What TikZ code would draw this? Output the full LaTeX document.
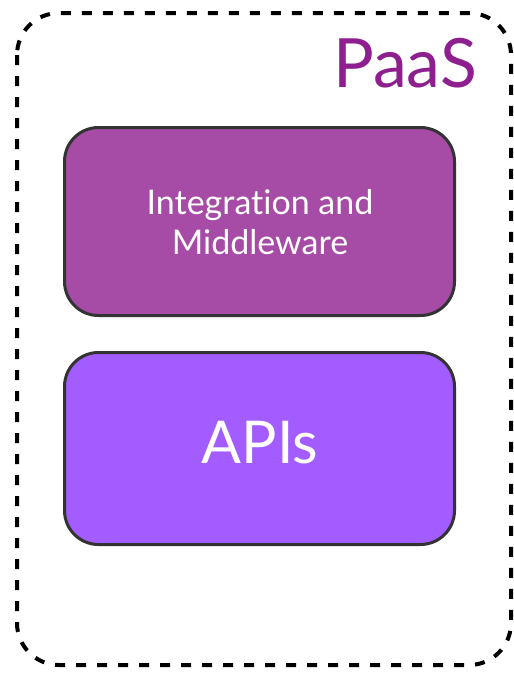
\documentclass[tikz,border=0pt]{standalone}
\usepackage{fontspec}
\setmainfont{Lato}[Ligatures={NoCommon}]
\usepackage{tikz}

\definecolor{paasc}{HTML}{8E1F8E}
\definecolor{midc}{HTML}{A64CA6}
\definecolor{apic}{HTML}{A35CFF}
\definecolor{edgec}{HTML}{333333}

\begin{document}
\begin{tikzpicture}[x=1pt,y=-1pt,
  layer box/.style={draw=edgec,line width=3pt,rounded corners=34pt,minimum width=390pt},
  layer text/.style={text=white,align=center}]
\useasboundingbox (0,0) rectangle (514,673);
\draw[line width=4pt,dash pattern=on 10pt off 11pt,rounded corners=42pt] (17,13) rectangle (511,665);

\node[font=\fontsize{68}{68}\selectfont,text=paasc,anchor=base west,inner sep=0pt] (paas) at (333,87) {PaaS};

\node[layer box,fill=midc,minimum height=188pt] (mid) at (259.5,221.5) {};
\node[layer text,font=\fontsize{34}{40}\selectfont] (midtext) at (260,222) {Integration and\\Middleware};

\node[layer box,fill=apic,minimum height=192pt] (api) at (259.5,448.5) {};
\node[layer text,font=\fontsize{59}{59}\selectfont,anchor=base] (apitext) at (260,463) {APIs};
\end{tikzpicture}
\end{document}
